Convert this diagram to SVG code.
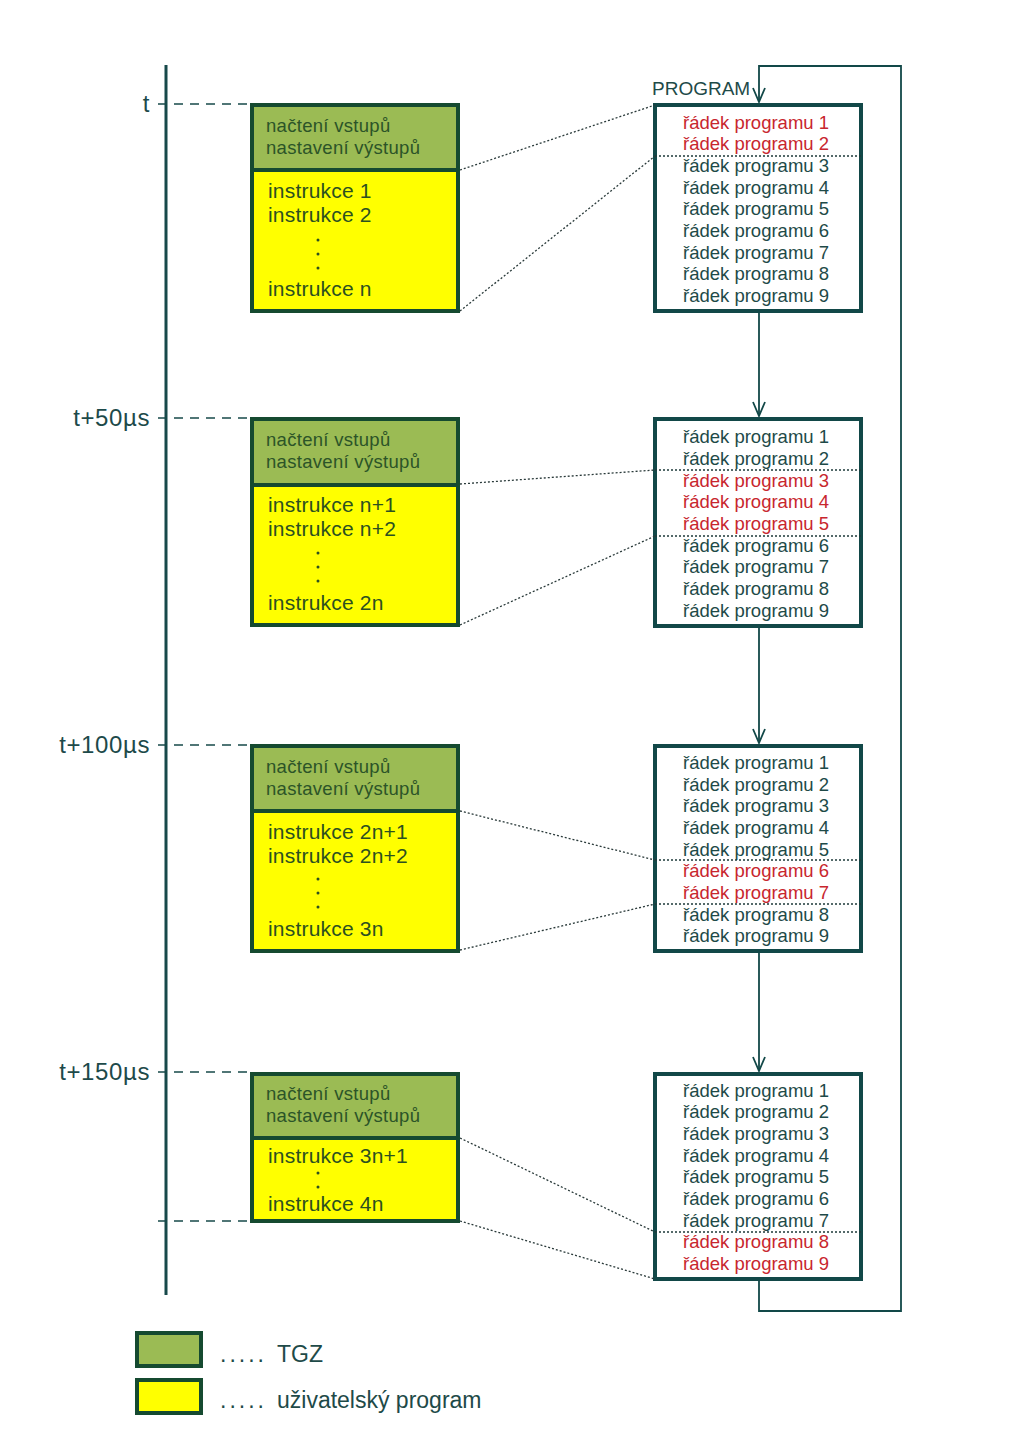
<svg xmlns="http://www.w3.org/2000/svg" width="1024" height="1448" viewBox="0 0 1024 1448">
<style>
.bg{fill:#ffffff}
.axis{stroke:#17494a;stroke-width:3;fill:none}
.dash{stroke:#17494a;stroke-width:1.5;stroke-dasharray:9,7;fill:none}
.tick{font-family:"Liberation Sans",Arial,sans-serif;font-size:24px;letter-spacing:0.6px;fill:#1d4a4a;text-anchor:end}
.hdr{fill:#9bbb54;stroke:#154a30;stroke-width:4}
.usr{fill:#ffff00;stroke:#154a30;stroke-width:4}
.ht{font-family:"Liberation Sans",Arial,sans-serif;font-size:18.5px;letter-spacing:0.3px;fill:#2c5428}
.ut{font-family:"Liberation Sans",Arial,sans-serif;font-size:21px;letter-spacing:0.2px;fill:#2c5020}
.dot{fill:#2c5020}
.prog{fill:#ffffff;stroke:#124848;stroke-width:4}
.pt{font-family:"Liberation Sans",Arial,sans-serif;font-size:18.5px;fill:#1e4a48}
.red{fill:#c8262e}
.sep{stroke:#1e3a3a;stroke-width:1.5;stroke-dasharray:2,2;fill:none}
.conn{stroke:#2a3a3a;stroke-width:1.3;stroke-dasharray:2,2;fill:none}
.flow{stroke:#124848;stroke-width:1.8;fill:none}
.lbl{font-family:"Liberation Sans",Arial,sans-serif;font-size:19px;fill:#1e4a48}
.leg{font-family:"Liberation Sans",Arial,sans-serif;font-size:23px;fill:#1e4a48}
.legd{font-family:"Liberation Sans",Arial,sans-serif;font-size:23px;letter-spacing:3px;fill:#1e4a48}
</style>
<defs>
<marker id="arr" markerWidth="16" markerHeight="14" refX="15" refY="7" orient="auto" markerUnits="userSpaceOnUse" viewBox="0 0 16 14">
<path d="M1,1 L15,7 L1,13" fill="none" stroke="#124848" stroke-width="1.8"/>
</marker>
</defs>
<rect class="bg" x="0" y="0" width="1024" height="1448"/>

<g id="timeline">
<line class="axis" x1="166" y1="65" x2="166" y2="1295"/>
<line class="dash" x1="158" y1="104" x2="250" y2="104"/>
<line class="dash" x1="158" y1="418" x2="250" y2="418"/>
<line class="dash" x1="158" y1="745" x2="250" y2="745"/>
<line class="dash" x1="158" y1="1072" x2="250" y2="1072"/>
<line class="dash" x1="158" y1="1221" x2="250" y2="1221"/>
<text class="tick" x="150" y="112">t</text>
<text class="tick" x="150" y="426">t+50µs</text>
<text class="tick" x="150" y="753">t+100µs</text>
<text class="tick" x="150" y="1080">t+150µs</text>
</g>

<g id="block1">
<rect class="usr" x="252" y="170" width="206" height="141"/>
<rect class="hdr" x="252" y="105" width="206" height="65"/>
<text class="ht" x="266" y="132">načtení vstupů</text>
<text class="ht" x="266" y="154">nastavení výstupů</text>
<text class="ut" x="268" y="198">instrukce 1</text>
<text class="ut" x="268" y="222">instrukce 2</text>
<circle class="dot" cx="318" cy="240" r="1.5"/><circle class="dot" cx="318" cy="254" r="1.5"/><circle class="dot" cx="318" cy="268" r="1.5"/>
<text class="ut" x="268" y="296">instrukce n</text>
</g>

<g id="block2">
<rect class="usr" x="252" y="485" width="206" height="140"/>
<rect class="hdr" x="252" y="419" width="206" height="66"/>
<text class="ht" x="266" y="446">načtení vstupů</text>
<text class="ht" x="266" y="468">nastavení výstupů</text>
<text class="ut" x="268" y="512">instrukce n+1</text>
<text class="ut" x="268" y="536">instrukce n+2</text>
<circle class="dot" cx="318" cy="553" r="1.5"/><circle class="dot" cx="318" cy="567" r="1.5"/><circle class="dot" cx="318" cy="581" r="1.5"/>
<text class="ut" x="268" y="610">instrukce 2n</text>
</g>

<g id="block3">
<rect class="usr" x="252" y="811" width="206" height="140"/>
<rect class="hdr" x="252" y="746" width="206" height="65"/>
<text class="ht" x="266" y="773">načtení vstupů</text>
<text class="ht" x="266" y="795">nastavení výstupů</text>
<text class="ut" x="268" y="839">instrukce 2n+1</text>
<text class="ut" x="268" y="863">instrukce 2n+2</text>
<circle class="dot" cx="318" cy="879" r="1.5"/><circle class="dot" cx="318" cy="893" r="1.5"/><circle class="dot" cx="318" cy="907" r="1.5"/>
<text class="ut" x="268" y="936">instrukce 3n</text>
</g>

<g id="block4">
<rect class="usr" x="252" y="1138" width="206" height="83"/>
<rect class="hdr" x="252" y="1074" width="206" height="64"/>
<text class="ht" x="266" y="1100">načtení vstupů</text>
<text class="ht" x="266" y="1122">nastavení výstupů</text>
<text class="ut" x="268" y="1163">instrukce 3n+1</text>
<circle class="dot" cx="318" cy="1173" r="1.5"/><circle class="dot" cx="318" cy="1187" r="1.5"/>
<text class="ut" x="268" y="1211">instrukce 4n</text>
</g>

<g id="prog1">
<rect class="prog" x="655" y="105" width="206" height="206"/>
<text class="pt red" x="683" y="129">řádek programu 1</text>
<text class="pt red" x="683" y="150">řádek programu 2</text>
<text class="pt" x="683" y="172">řádek programu 3</text>
<text class="pt" x="683" y="194">řádek programu 4</text>
<text class="pt" x="683" y="215">řádek programu 5</text>
<text class="pt" x="683" y="237">řádek programu 6</text>
<text class="pt" x="683" y="259">řádek programu 7</text>
<text class="pt" x="683" y="280">řádek programu 8</text>
<text class="pt" x="683" y="302">řádek programu 9</text>
<line class="sep" x1="655" y1="156" x2="861" y2="156"/>
</g>

<g id="prog2">
<rect class="prog" x="655" y="419" width="206" height="207"/>
<text class="pt" x="683" y="443">řádek programu 1</text>
<text class="pt" x="683" y="465">řádek programu 2</text>
<text class="pt red" x="683" y="487">řádek programu 3</text>
<text class="pt red" x="683" y="508">řádek programu 4</text>
<text class="pt red" x="683" y="530">řádek programu 5</text>
<text class="pt" x="683" y="552">řádek programu 6</text>
<text class="pt" x="683" y="573">řádek programu 7</text>
<text class="pt" x="683" y="595">řádek programu 8</text>
<text class="pt" x="683" y="617">řádek programu 9</text>
<line class="sep" x1="655" y1="470" x2="861" y2="470"/>
<line class="sep" x1="655" y1="536" x2="861" y2="536"/>
</g>

<g id="prog3">
<rect class="prog" x="655" y="746" width="206" height="205"/>
<text class="pt" x="683" y="769">řádek programu 1</text>
<text class="pt" x="683" y="791">řádek programu 2</text>
<text class="pt" x="683" y="812">řádek programu 3</text>
<text class="pt" x="683" y="834">řádek programu 4</text>
<text class="pt" x="683" y="856">řádek programu 5</text>
<text class="pt red" x="683" y="877">řádek programu 6</text>
<text class="pt red" x="683" y="899">řádek programu 7</text>
<text class="pt" x="683" y="921">řádek programu 8</text>
<text class="pt" x="683" y="942">řádek programu 9</text>
<line class="sep" x1="655" y1="860" x2="861" y2="860"/>
<line class="sep" x1="655" y1="904" x2="861" y2="904"/>
</g>

<g id="prog4">
<rect class="prog" x="655" y="1074" width="206" height="205"/>
<text class="pt" x="683" y="1097">řádek programu 1</text>
<text class="pt" x="683" y="1118">řádek programu 2</text>
<text class="pt" x="683" y="1140">řádek programu 3</text>
<text class="pt" x="683" y="1162">řádek programu 4</text>
<text class="pt" x="683" y="1183">řádek programu 5</text>
<text class="pt" x="683" y="1205">řádek programu 6</text>
<text class="pt" x="683" y="1227">řádek programu 7</text>
<text class="pt red" x="683" y="1248">řádek programu 8</text>
<text class="pt red" x="683" y="1270">řádek programu 9</text>
<line class="sep" x1="655" y1="1232" x2="861" y2="1232"/>
</g>

<g id="connectors">
<line class="conn" x1="460" y1="170" x2="655" y2="105"/>
<line class="conn" x1="460" y1="311" x2="655" y2="156"/>
<line class="conn" x1="460" y1="484" x2="655" y2="470"/>
<line class="conn" x1="460" y1="625" x2="655" y2="536"/>
<line class="conn" x1="460" y1="811" x2="655" y2="860"/>
<line class="conn" x1="460" y1="950" x2="655" y2="904"/>
<line class="conn" x1="460" y1="1138" x2="655" y2="1232"/>
<line class="conn" x1="460" y1="1221" x2="655" y2="1279"/>
<line class="flow" x1="759" y1="313" x2="759" y2="416" marker-end="url(#arr)"/>
<line class="flow" x1="759" y1="628" x2="759" y2="743" marker-end="url(#arr)"/>
<line class="flow" x1="759" y1="953" x2="759" y2="1071" marker-end="url(#arr)"/>
<path class="flow" d="M759,1281 L759,1311 L901,1311 L901,66 L759,66 L759,102" marker-end="url(#arr)"/>
<text class="lbl" x="652" y="95">PROGRAM</text>
</g>

<g id="legend">
<rect class="hdr" x="137" y="1333" width="64" height="33" stroke-width="3"/>
<rect class="usr" x="137" y="1380" width="64" height="33" stroke-width="3"/>
<text class="legd" x="220" y="1362">.....</text>
<text class="leg" x="277" y="1362">TGZ</text>
<text class="legd" x="220" y="1408">.....</text>
<text class="leg" x="277" y="1408">uživatelský program</text>
</g>
</svg>
